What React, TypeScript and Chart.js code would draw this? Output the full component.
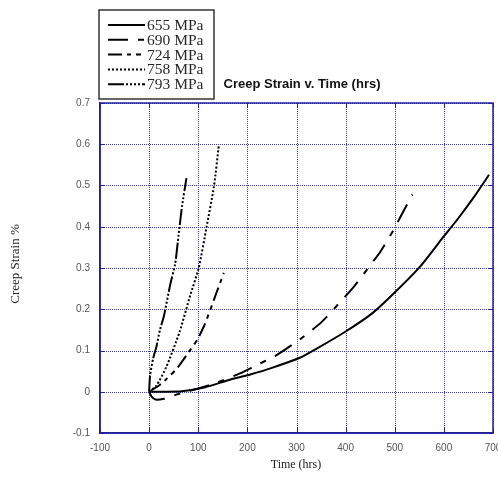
import React, { useEffect, useRef } from 'react';
import { Chart, registerables } from 'chart.js';

Chart.register(...registerables);

// ---- data (time in hrs, creep strain in %) ----
const t655 = [0, 30, 66, 114, 161, 206, 250, 308, 342, 400, 454, 502, 552, 600, 627, 660, 692];
const s655 = [0, 0, 0.001, 0.011, 0.028, 0.042, 0.058, 0.083, 0.105, 0.146, 0.19, 0.243, 0.304, 0.377, 0.417, 0.47, 0.526];

const t690 = [0, 5, 13, 30, 44, 70, 100, 138, 186, 213, 261, 308, 352, 393, 417, 451, 471, 498, 512, 536];
const s690 = [0, -0.012, -0.019, -0.017, -0.011, -0.002, 0.008, 0.022, 0.045, 0.061, 0.09, 0.128, 0.17, 0.223, 0.255, 0.308, 0.34, 0.393, 0.425, 0.478];

const t724 = [0, 20, 37, 57, 80, 98, 112, 125, 138, 152];
const s724 = [0, 0.015, 0.033, 0.057, 0.095, 0.126, 0.16, 0.2, 0.243, 0.288];

const t758 = [0, 15, 35, 62, 84, 101, 117, 132, 142];
const s758 = [0, 0.015, 0.06, 0.145, 0.235, 0.3, 0.4, 0.498, 0.599];

const t793 = [0, 2, 8, 15, 22, 30, 43, 53, 60, 67, 76];
const s793 = [0, 0.04, 0.08, 0.11, 0.15, 0.183, 0.26, 0.31, 0.38, 0.45, 0.518];

const seriesLabels = ['655 MPa', '690 MPa', '724 MPa', '758 MPa', '793 MPa'];
const seriesTimes = [t655, t690, t724, t758, t793];
const seriesStrains = [s655, s690, s724, s758, s793];

const xMin = -100;
const xMax = 700;
const xStep = 100;
const yMin = -0.1;
const yMax = 0.7;
const yStep = 0.1;

const chartTitle = 'Creep Strain v. Time (hrs)';
const xTitle = 'Time (hrs)';
const yTitle = 'Creep Strain %';

// ---- styles ----
const dashes: number[][] = [
  [],
  [20, 10, 6, 10],
  [14, 5, 4, 5, 5, 5],
  [2, 2],
  [16, 2, 2, 2, 2, 2, 2, 2, 2, 2],
];
const gridColor = '#3a3aa8';
const frameColor = '#22229a';

const gridPlugin = {
  id: 'dotgrid',
  beforeDatasetsDraw(chart: any) {
    const { ctx, chartArea: a, scales } = chart;
    ctx.save();
    ctx.fillStyle = gridColor;
    const L = Math.round(a.left), R = Math.round(a.right), T = Math.round(a.top), B = Math.round(a.bottom);
    for (let v = xMin; v <= xMax + 1e-9; v += xStep) {
      const px = Math.round(scales.x.getPixelForValue(v));
      for (let y = T; y < B; y += 2) ctx.fillRect(px, y, 1, 1);
    }
    for (let i = 0; i <= Math.round((yMax - yMin) / yStep); i++) {
      const py = Math.round(scales.y.getPixelForValue(yMin + i * yStep));
      for (let x = L; x < R; x += 2) ctx.fillRect(x, py, 1, 1);
    }
    ctx.restore();
  },
};

const decorPlugin = {
  id: 'decor',
  afterDraw(chart: any) {
    const { ctx, chartArea: a, scales } = chart;
    ctx.save();
    // inner tick marks
    ctx.setLineDash([]);
    ctx.strokeStyle = frameColor;
    ctx.lineWidth = 1;
    for (let v = xMin; v <= xMax + 1e-9; v += xStep) {
      const px = Math.round(scales.x.getPixelForValue(v)) + 0.5;
      ctx.beginPath();
      ctx.moveTo(px, a.bottom);
      ctx.lineTo(px, a.bottom - 5);
      ctx.moveTo(px, a.top);
      ctx.lineTo(px, a.top + 5);
      ctx.stroke();
    }
    for (let i = 0; i <= Math.round((yMax - yMin) / yStep); i++) {
      const v = yMin + i * yStep;
      const py = Math.round(scales.y.getPixelForValue(v)) + 0.5;
      ctx.beginPath();
      ctx.moveTo(a.left, py);
      ctx.lineTo(a.left + 5, py);
      ctx.moveTo(a.right, py);
      ctx.lineTo(a.right - 5, py);
      ctx.stroke();
    }
    // frame
    ctx.lineWidth = 1.5;
    ctx.strokeRect(a.left, a.top, a.right - a.left, a.bottom - a.top);

    // title
    ctx.fillStyle = '#111';
    ctx.font = 'bold 13px "Liberation Sans", Arial, sans-serif';
    ctx.textAlign = 'center';
    ctx.textBaseline = 'middle';
    ctx.fillText(chartTitle, 302, 84);

    // axis titles
    ctx.fillStyle = '#222';
    ctx.font = '12px "Liberation Serif", "Times New Roman", serif';
    ctx.fillText(xTitle, 296, 465);
    ctx.save();
    ctx.translate(16, 264);
    ctx.rotate(-Math.PI / 2);
    ctx.font = '13px "Liberation Serif", "Times New Roman", serif';
    ctx.fillText(yTitle, 0, 0);
    ctx.restore();

    // legend
    ctx.strokeStyle = '#333';
    ctx.lineWidth = 1.5;
    ctx.setLineDash([]);
    ctx.strokeRect(99, 10, 115, 89);
    ctx.font = '15.5px "Liberation Serif", "Times New Roman", serif';
    ctx.textAlign = 'left';
    ctx.textBaseline = 'middle';
    for (let i = 0; i < seriesLabels.length; i++) {
      const y = 25 + i * 14.8;
      ctx.strokeStyle = '#000';
      ctx.lineWidth = 2;
      ctx.setLineDash(dashes[i]);
      ctx.beginPath();
      ctx.moveTo(108, y);
      ctx.lineTo(145, y);
      ctx.stroke();
      ctx.setLineDash([]);
      ctx.fillStyle = '#2a2a2a';
      ctx.fillText(seriesLabels[i], 147, y + 1);
    }
    ctx.restore();
  },
};

export default function App() {
  const ref = useRef<HTMLCanvasElement>(null);
  useEffect(() => {
    if (!ref.current) return;
    const datasets = seriesLabels.map((label, i) => ({
      label,
      data: seriesTimes[i].map((t, j) => ({ x: t, y: seriesStrains[i][j] })),
      borderColor: '#000',
      backgroundColor: '#000',
      borderWidth: 2,
      borderDash: dashes[i],
      pointRadius: 0,
      fill: false,
      tension: 0.2,
    }));
    const chart = new Chart(ref.current, {
      type: 'line',
      data: { datasets },
      options: {
        animation: false,
        responsive: false,
        layout: { padding: { top: 103, right: 5, left: 0, bottom: 0 } },
        plugins: {
          legend: { display: false },
          title: { display: false },
          tooltip: { enabled: false },
        },
        scales: {
          x: {
            type: 'linear',
            min: xMin,
            max: xMax,
            ticks: {
              stepSize: xStep,
              color: '#555',
              font: { size: 10, family: '"Liberation Sans", Arial, sans-serif' },
              padding: 9,
              maxRotation: 0,
            },
            grid: { display: false, drawTicks: false },
            border: { color: frameColor, width: 1.5 },
            afterFit(s: any) {
              s.height = 48;
              s.paddingLeft = 0;
              s.paddingRight = 0;
            },
          } as any,
          y: {
            type: 'linear',
            min: yMin,
            max: yMax,
            ticks: {
              stepSize: yStep,
              color: '#555',
              font: { size: 10, family: '"Liberation Sans", Arial, sans-serif' },
              padding: 10,
              callback: (v: any) => String(parseFloat(Number(v).toFixed(1))),
            },
            grid: { display: false, drawTicks: false },
            border: { color: frameColor, width: 1.5 },
            afterFit(s: any) {
              s.width = 100;
              s.paddingTop = 0;
              s.paddingBottom = 0;
            },
          } as any,
        },
      },
      plugins: [gridPlugin, decorPlugin],
    });
    return () => chart.destroy();
  }, []);
  return (
    <div style={{ position: 'absolute', left: 0, top: 0, width: 498, height: 481 }}>
      <canvas ref={ref} width={498} height={481} style={{ display: 'block' }} />
    </div>
  );
}
